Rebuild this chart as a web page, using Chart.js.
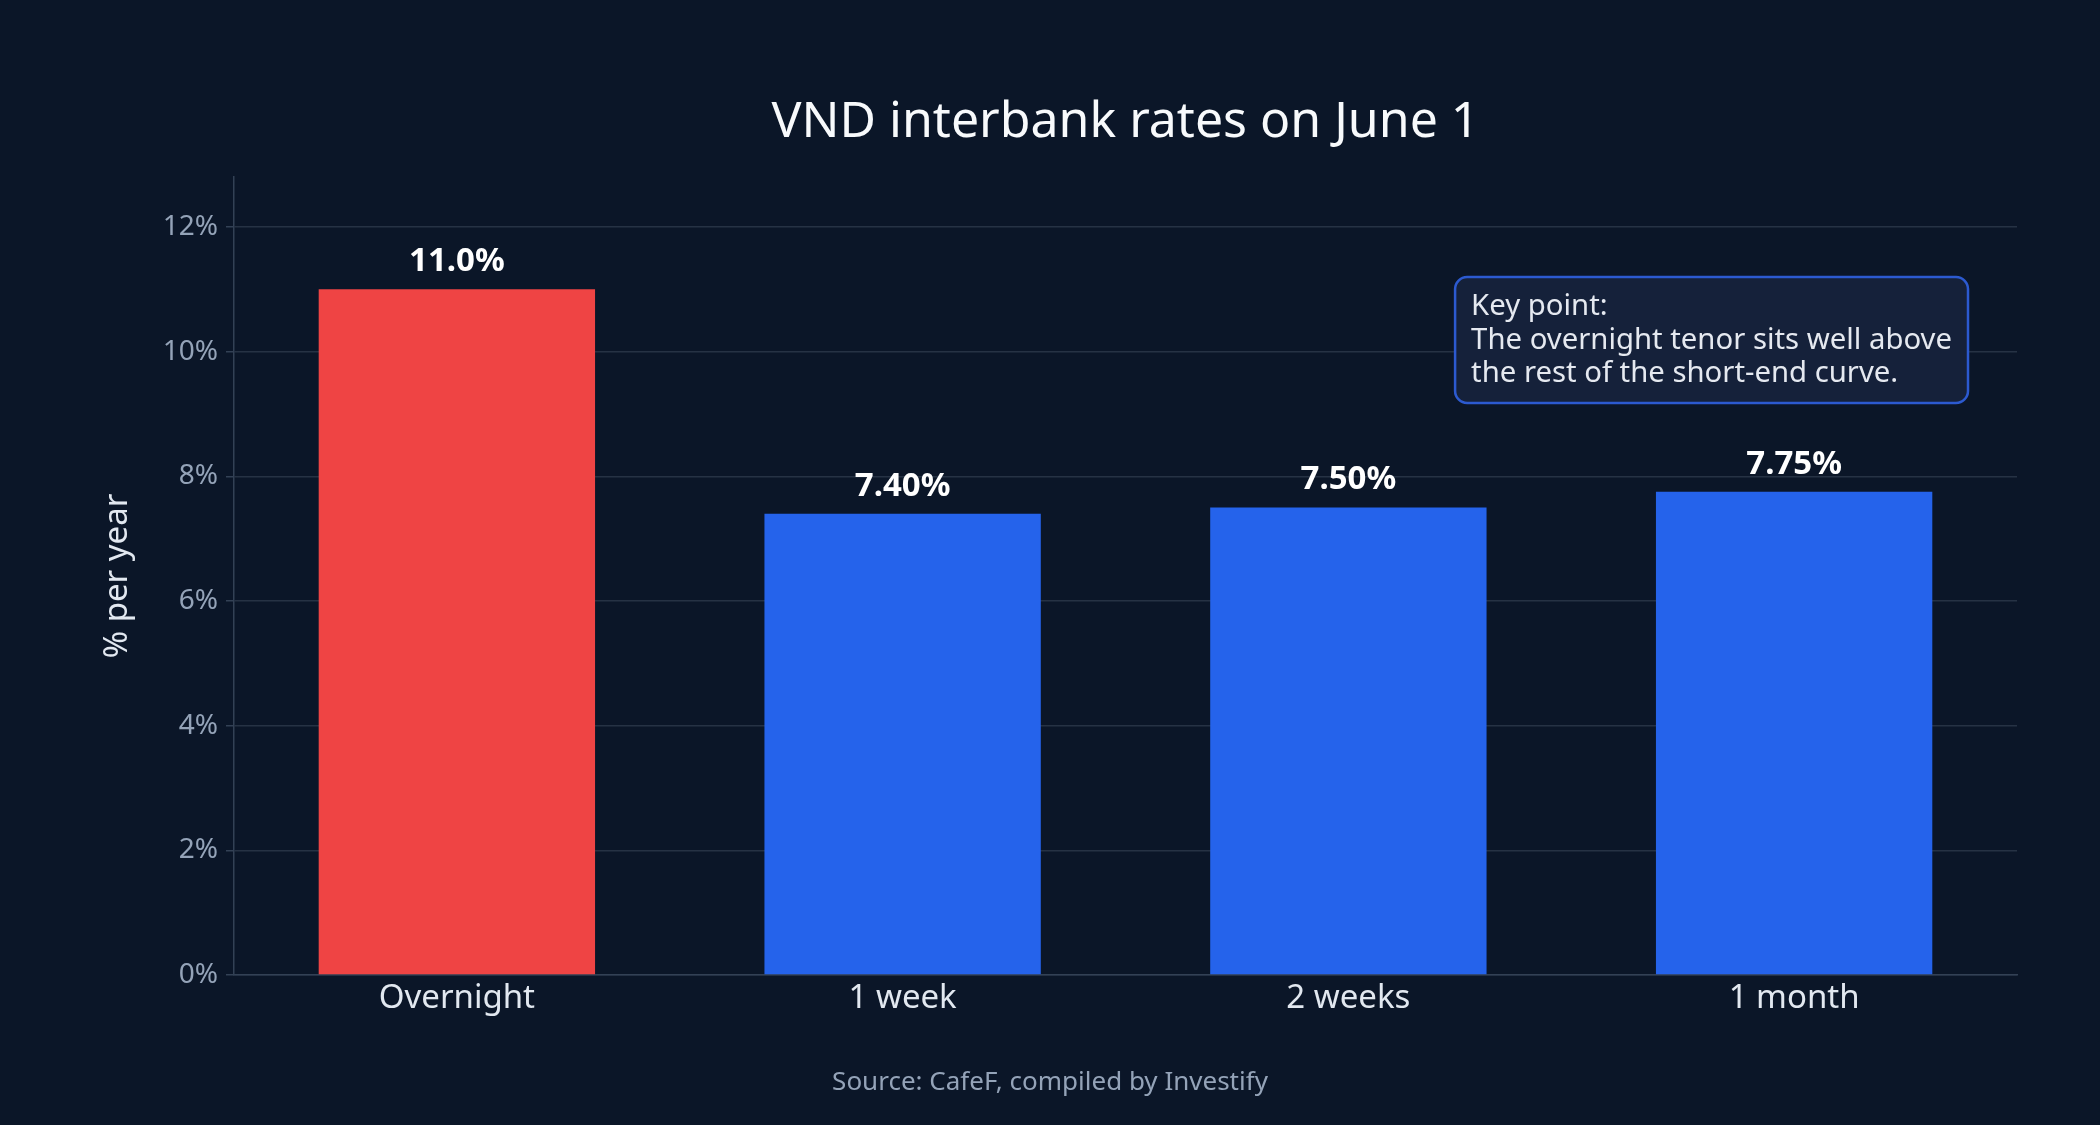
<!DOCTYPE html>
<html>
<head>
<meta charset="utf-8">
<script src="https://cdn.jsdelivr.net/npm/chart.js@4.4.1/dist/chart.umd.min.js"></script>
<style>
  html, body { margin: 0; padding: 0; background: #0b1628; }
  #wrap { width: 2100px; height: 1125px; }
</style>
</head>
<body>
<div id="wrap"><canvas id="c" width="2100" height="1125"></canvas></div>
<script>
const categories = ["Overnight", "1 week", "2 weeks", "1 month"];
const rates = [11.0, 7.40, 7.50, 7.75];
const barColors = ["#ef4444", "#2563eb", "#2563eb", "#2563eb"];
const yTicks = [0, 2, 4, 6, 8, 10, 12];
const titleText = "VND interbank rates on June 1";
const yTitle = "% per year";
const sourceText = "Source: CafeF, compiled by Investify";
const noteLines = ["Key point:", "The overnight tenor sits well above", "the rest of the short-end curve."];

const FONT = "'Noto Sans', 'DejaVu Sans', sans-serif";

const overlay = {
  id: 'overlay',
  afterDatasetsDraw(chart) {
    const ctx = chart.ctx;
    const meta = chart.getDatasetMeta(0);
    ctx.save();
    ctx.fillStyle = '#ffffff';
    ctx.font = "bold 33px " + FONT;
    ctx.textAlign = 'center';
    ctx.textBaseline = 'alphabetic';
    meta.data.forEach((bar, i) => {
      ctx.fillText(rates[i].toPrecision(3) + '%', bar.x, bar.y - 18);
    });
    ctx.restore();
  },
  afterDraw(chart) {
    const ctx = chart.ctx;
    const ca = chart.chartArea;
    ctx.save();
    // title
    ctx.fillStyle = '#f8fafc';
    ctx.font = "50px " + FONT;
    ctx.textAlign = 'center';
    ctx.textBaseline = 'alphabetic';
    ctx.fillText(titleText, (ca.left + ca.right) / 2, 137);
    // source
    ctx.fillStyle = '#94a3b8';
    ctx.font = "26px " + FONT;
    ctx.fillText(sourceText, chart.width / 2, 1090);
    // annotation box
    ctx.font = "29.3px " + FONT;
    let maxW = 0;
    noteLines.forEach(l => { maxW = Math.max(maxW, ctx.measureText(l).width); });
    const padX = 16, lineH = 33.5;
    const w = maxW + padX * 2;
    const h = 126;
    const x1 = ca.right - 49;
    const x0 = x1 - w;
    const y0 = ca.top + 100;
    ctx.beginPath();
    ctx.roundRect(x0, y0, w, h, 12);
    ctx.fillStyle = '#15213a';
    ctx.fill();
    ctx.lineWidth = 2.5;
    ctx.strokeStyle = '#2c5ad0';
    ctx.stroke();
    ctx.fillStyle = '#e5e9f0';
    ctx.textAlign = 'left';
    noteLines.forEach((l, i) => {
      ctx.fillText(l, x0 + padX, y0 + 38 + i * lineH);
    });
    ctx.restore();
  }
};

new Chart(document.getElementById('c'), {
  type: 'bar',
  data: {
    labels: categories,
    datasets: [{
      data: rates,
      backgroundColor: barColors,
      borderWidth: 0,
      barPercentage: 0.62,
      categoryPercentage: 1.0
    }]
  },
  options: {
    responsive: false,
    animation: false,
    devicePixelRatio: 1,
    layout: { padding: { top: 177, right: 83, bottom: 0, left: 0 } },
    plugins: {
      legend: { display: false },
      tooltip: { enabled: false },
      title: { display: false }
    },
    scales: {
      x: {
        grid: { display: false, drawTicks: false },
        border: { display: true, color: '#334155', width: 1.5 },
        ticks: {
          color: '#e2e8f0',
          font: { family: FONT, size: 33 },
          padding: 4
        },
        afterFit(s) { s.height = 150; }
      },
      y: {
        min: 0,
        max: 12.8,
        afterBuildTicks(s) { s.ticks = yTicks.map(v => ({ value: v })); },
        grid: { color: '#263244', lineWidth: 1.5, drawTicks: true, tickLength: 8, tickColor: '#334155' },
        border: { display: true, color: '#334155', width: 1.5 },
        ticks: {
          color: '#94a3b8',
          font: { family: FONT, size: 28 },
          padding: 8,
          callback: v => v + '%'
        },
        title: {
          display: true,
          text: yTitle,
          color: '#e2e8f0',
          font: { family: FONT, size: 33 },
          padding: { top: 98, bottom: 0 }
        },
        afterFit(s) { s.width = 234; }
      }
    }
  },
  plugins: [overlay]
});
</script>
</body>
</html>
